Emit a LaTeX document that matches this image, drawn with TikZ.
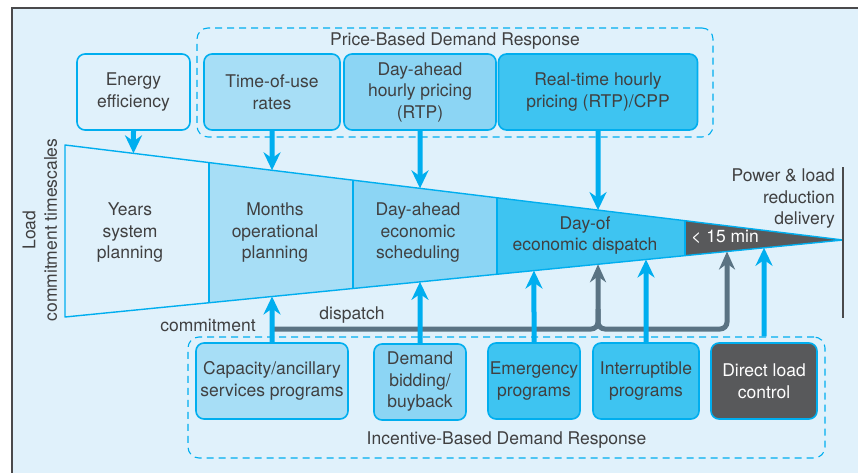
\documentclass[tikz,border=0pt]{standalone}
\usepackage{fontspec}
\setmainfont{TeX Gyre Heros}
\usetikzlibrary{arrows.meta,calc}

\definecolor{bgblue}{HTML}{E0F1FB}
\definecolor{tierB}{HTML}{A7DEF6}
\definecolor{tierC}{HTML}{8CD5F4}
\definecolor{tierD}{HTML}{3EC4F1}
\definecolor{darkbox}{HTML}{58595B}
\definecolor{lineblue}{HTML}{00AEEF}
\definecolor{grayline}{HTML}{5A7383}
\definecolor{framegray}{HTML}{4A4A4C}
\definecolor{txt}{HTML}{404041}

\newcommand{\dgfont}{\fontsize{17.5}{21.5}\selectfont}

\tikzset{
	lbl/.style={align=center, text=txt, font=\dgfont, inner sep=1pt},
	prog/.style={lbl, draw=lineblue, line width=1.6pt, rounded corners=8pt, minimum height=76pt},
	grp/.style={draw=lineblue, line width=1.1pt, dash pattern=on 7pt off 5pt, rounded corners=11pt},
	uparrow/.style={draw=lineblue, line width=5pt, -{Stealth[length=18pt,width=17pt]}},
	cmtline/.style={draw=grayline, line width=5pt, rounded corners=7pt},
}

\begin{document}
\begin{tikzpicture}[x=1pt,y=-1pt]

	\useasboundingbox (0,0) rectangle (858,473);
	\fill[bgblue] (12,8) rectangle (858,473);
	\draw[framegray, line width=1.5pt] (12,473) -- (12,8) -- (858,8);

	% dashed groups
	\node[grp, minimum width=516pt, minimum height=109pt] (priceDR) at (455,82.5) {};
	\node[grp, minimum width=637pt, minimum height=121pt] (incDR) at (506.5,397.5) {};
	\node[lbl] (priceLbl) at (455,41) {Price-Based Demand Response};
	\node[lbl] (incLbl) at (506.5,440) {Incentive-Based Demand Response};

	% timescale wedge
	\coordinate (tl) at (65,145);
	\coordinate (bl) at (65,317);
	\coordinate (tip) at (843,240);
	\foreach \a/\b/\c in {0/0.1851/bgblue, 0.1851/0.3702/tierB, 0.3702/0.5553/tierC, 0.5553/0.7969/tierD, 0.7969/1/darkbox}
		\fill[\c] ($(tl)!\a!(tip)$) -- ($(tl)!\b!(tip)$) -- ($(bl)!\b!(tip)$) -- ($(bl)!\a!(tip)$) -- cycle;
	\foreach \b in {0.1851,0.3702,0.5553,0.7969}
		\draw[lineblue, line width=1.2pt] ($(tl)!\b!(tip)$) -- ($(bl)!\b!(tip)$);
	\draw[lineblue, line width=1.4pt, line join=round] (tl) -- (tip) -- (bl) -- cycle;

	\node[lbl] (years) at (130,233) {Years\\system\\planning};
	\node[lbl] (months) at (275,233) {Months\\operational\\planning};
	\node[lbl] (dayah) at (418,233) {Day-ahead\\economic\\scheduling};
	\node[lbl] (dayof) at (585,235.5) {Day-of\\economic dispatch};
	\node[lbl, text=white] (min15) at (725,237) {< 15 min};

	\node[lbl, rotate=90] (axis) at (40,230) {Load\\commitment timescales};
	\node[lbl, align=right, anchor=east] (power) at (836,199) {Power \& load\\reduction\\delivery};
	\draw[framegray, line width=1.5pt] (843,167) -- (843,318);

	% top programs
	\node[prog, fill=bgblue, minimum width=113pt] (ee) at (133.5,92) {Energy\\efficiency};
	\node[prog, fill=tierB, minimum width=136pt] (tou) at (272,92) {Time-of-use\\rates};
	\node[prog, fill=tierC, minimum width=152pt] (dahp) at (420,92) {Day-ahead\\hourly pricing\\(RTP)};
	\node[prog, fill=tierD, minimum width=199pt] (rtp) at (598,92) {Real-time hourly\\pricing (RTP)/CPP};

	% bottom programs
	\node[prog, fill=tierB, minimum width=152pt] (cap) at (272,381) {Capacity/ancillary\\services programs};
	\node[prog, fill=tierC, minimum width=92pt] (dbid) at (420,382) {Demand\\bidding/\\buyback};
	\node[prog, fill=tierD, minimum width=92pt] (emer) at (534,381) {Emergency\\programs};
	\node[prog, fill=tierD, minimum width=106pt] (intr) at (646,381) {Interruptible\\programs};
	\node[prog, fill=darkbox, text=white, minimum width=106pt] (dlc) at (764,381) {Direct load\\control};

	% where arrows meet the wedge
	\coordinate (eeIn) at ($(tl)!0.0880!(tip)$);
	\coordinate (touIn) at ($(tl)!0.2661!(tip)$);
	\coordinate (dahpIn) at ($(tl)!0.4563!(tip)$);
	\coordinate (rtpIn) at ($(tl)!0.6851!(tip)$);
	\coordinate (capIn) at ($(bl)!0.2661!(tip)$);
	\coordinate (dbidIn) at ($(bl)!0.4563!(tip)$);
	\coordinate (emerIn) at ($(bl)!0.6028!(tip)$);
	\coordinate (intrIn) at ($(bl)!0.7468!(tip)$);
	\coordinate (dlcIn) at ($(bl)!0.8985!(tip)$);
	\coordinate (dispA) at ($(bl)!0.6851!(tip)$);
	\coordinate (dispB) at ($(bl)!0.8509!(tip)$);
	\coordinate (cmt) at (272,329);
	\coordinate (jn) at (598,329);

	% commitment / dispatch
	\draw[cmtline, -{Stealth[length=18pt,width=16pt]}] (cmt) -| (dispA);
	\draw[cmtline, -{Stealth[length=18pt,width=16pt]}] ([yshift=20pt]jn) -- (jn) -| (dispB);
	\node[lbl] (cmtLbl) at (208,325) {commitment};
	\node[lbl] (dspLbl) at (352,315) {dispatch};

	\draw[uparrow] (ee.south) -- (eeIn);
	\draw[uparrow] (tou.south) -- (touIn);
	\draw[uparrow] (dahp.south) -- (dahpIn);
	\draw[uparrow] (rtp.south) -- (rtpIn);

	\draw[uparrow] (cap.north) -- (capIn);
	\draw[uparrow] (dbid.north) -- (dbidIn);
	\draw[uparrow] (emer.north) -- (emerIn);
	\draw[uparrow] (intr.north) -- (intrIn);
	\draw[uparrow] (dlc.north |- incDR.north) -- (dlcIn);

\end{tikzpicture}
\end{document}
